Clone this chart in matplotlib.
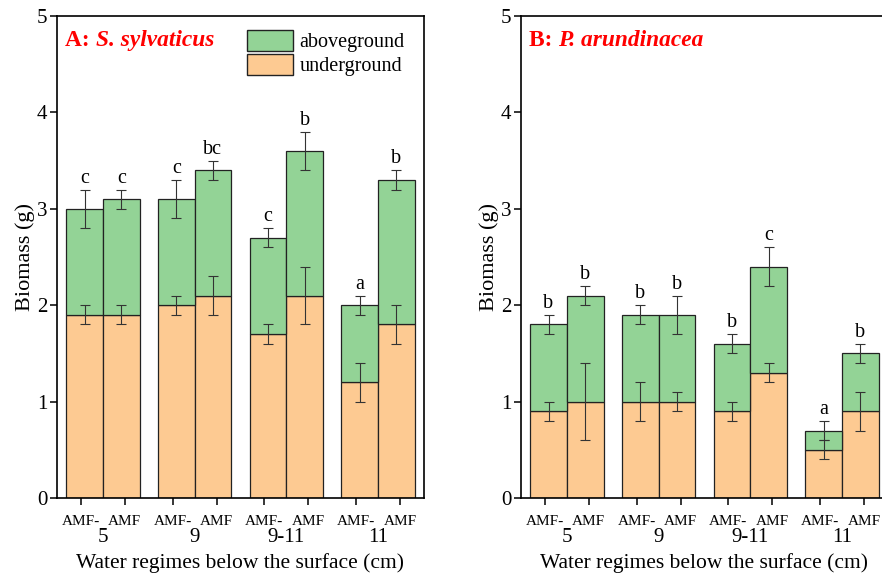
import numpy as np
import matplotlib
matplotlib.use("Agg")
import matplotlib.pyplot as plt
from matplotlib.patches import Patch

plt.rcParams["font.family"] = ["Liberation Serif", "DejaVu Serif"]

groups = ["5", "9", "9-11", "11"]
treatments = ["AMF-", "AMF"]

# panel A: S. sylvaticus, order per group: AMF-, AMF
a_under = [1.9, 1.9, 2.0, 2.1, 1.7, 2.1, 1.2, 1.8]
a_under_err = [0.1, 0.1, 0.1, 0.2, 0.1, 0.3, 0.2, 0.2]
a_total = [3.0, 3.1, 3.1, 3.4, 2.7, 3.6, 2.0, 3.3]
a_total_err = [0.2, 0.1, 0.2, 0.1, 0.1, 0.2, 0.1, 0.1]
a_letters = ["c", "c", "c", "bc", "c", "b", "a", "b"]

# panel B: P. arundinacea
b_under = [0.9, 1.0, 1.0, 1.0, 0.9, 1.3, 0.5, 0.9]
b_under_err = [0.1, 0.4, 0.2, 0.1, 0.1, 0.1, 0.1, 0.2]
b_total = [1.8, 2.1, 1.9, 1.9, 1.6, 2.4, 0.7, 1.5]
b_total_err = [0.1, 0.1, 0.1, 0.2, 0.1, 0.2, 0.1, 0.1]
b_letters = ["b", "b", "b", "b", "b", "c", "a", "b"]

GREEN = "#93d396"
ORANGE = "#fdca92"
BAR_W = 0.4


def draw_panel(ax, under, under_err, total, total_err, letters, tag, species):
    centers = np.arange(len(groups))
    x = np.concatenate([[c - BAR_W / 2, c + BAR_W / 2] for c in centers])
    under = np.array(under)
    total = np.array(total)
    above = total - under

    ax.bar(x, under, width=BAR_W, color=ORANGE, edgecolor="#222222", linewidth=0.9, zorder=2)
    ax.bar(x, above, bottom=under, width=BAR_W, color=GREEN, edgecolor="#222222", linewidth=0.9, zorder=2)
    ax.errorbar(x, under, yerr=under_err, fmt="none", ecolor="#333333", elinewidth=0.8, capsize=3.5, capthick=0.8, zorder=3)
    ax.errorbar(x, total, yerr=total_err, fmt="none", ecolor="#333333", elinewidth=0.8, capsize=3.5, capthick=0.8, zorder=3)
    for xi, t, e, lab in zip(x, total, total_err, letters):
        ax.text(xi, t + e + 0.02, lab, ha="center", va="bottom", fontsize=14.5)

    ax.set_xlim(-0.5, len(groups) - 0.5)
    ax.set_ylim(0, 5)
    ax.set_yticks(range(6))
    tick_x = np.concatenate([[c - 0.24, c + 0.24] for c in centers])
    ax.set_xticks(tick_x)
    ax.set_xticklabels(treatments * len(groups), fontsize=11)
    ax.tick_params(axis="x", direction="out", length=5, width=1.1, pad=7)
    ax.tick_params(axis="y", direction="out", length=5, width=1.1, labelsize=15, pad=2)
    for s in ax.spines.values():
        s.set_linewidth(1.2)
    for c, g in zip(centers, groups):
        ax.text(c, -0.083, g, transform=ax.get_xaxis_transform(), ha="center", va="center", fontsize=15)
    ax.set_xlabel("Water regimes below the surface (cm)", fontsize=15.5, labelpad=18)
    ax.set_ylabel("Biomass (g)", fontsize=16, labelpad=1)

    t1 = ax.text(0.022, 0.95, tag, transform=ax.transAxes, color="red",
                 fontsize=16.8, fontweight="bold", va="center", ha="left")
    ax.annotate(species, xy=(1, 0.5), xycoords=t1, va="center", ha="left",
                color="red", fontsize=16.8, fontweight="bold", fontstyle="italic")


fig = plt.figure(figsize=(8.82, 5.80), dpi=100)
ax_a = fig.add_axes([0.0646, 0.1414, 0.4161, 0.831])
ax_b = fig.add_axes([0.5907, 0.1414, 0.4161, 0.831])

draw_panel(ax_a, a_under, a_under_err, a_total, a_total_err, a_letters, "A: ", "S. sylvaticus")
draw_panel(ax_b, b_under, b_under_err, b_total, b_total_err, b_letters, "B: ", "P. arundinacea")

handles = [Patch(facecolor=GREEN, edgecolor="#222222", linewidth=1.0, label="aboveground"),
           Patch(facecolor=ORANGE, edgecolor="#222222", linewidth=1.0, label="underground")]
ax_a.legend(handles=handles, loc="upper right", bbox_to_anchor=(0.985, 1.0), frameon=False,
            fontsize=14.5, handlelength=2.3, handleheight=1.2, labelspacing=0.1,
            handletextpad=0.3, borderpad=0.2)

fig.savefig("out.png", dpi=100)
